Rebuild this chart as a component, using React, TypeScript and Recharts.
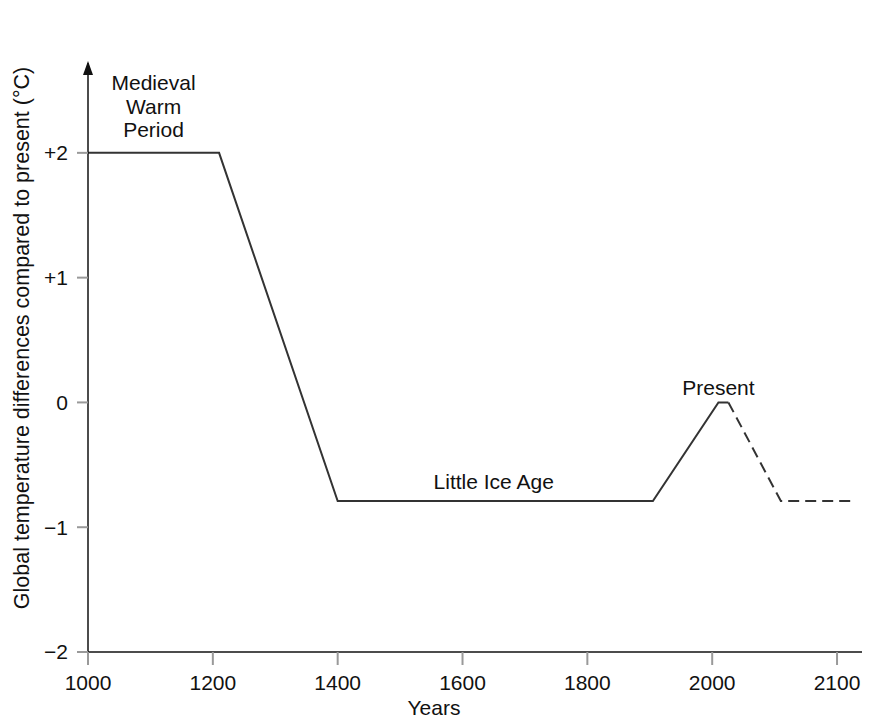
import { Label, Line, LineChart, ReferenceDot, XAxis, YAxis } from "recharts";

// tick years along the bottom (evenly spaced in the drawing even though 2000-2100 is only 100 years)
const tickYears = [1000, 1200, 1400, 1600, 1800, 2000, 2100];
const tempTicks = [-2, -1, 0, 1, 2];
const tempTickLabels = ["\u22122", "\u22121", "0", "+1", "+2"];

// reconstructed temperature curve
const pastYears = [1000, 1210, 1400, 1905, 2005, 2013];
const pastTemps = [2, 2, -0.79, -0.79, 0, 0];
const futureYears = [2013, 2055, 2115];
const futureTemps = [0, -0.79, -0.79];

// annotations (year = text centre, temp = first baseline)
const annotationTexts = [["Medieval", "Warm", "Period"], ["Little Ice Age"], ["Present"]];
const annotationYears = [1105, 1650, 2005];
const annotationTemps = [2.5, -0.69, 0.06];

const FONT = '"Liberation Sans", Arial, Helvetica, sans-serif';

// maps a year to its place on the evenly spaced tick grid
function yearToPos(year: number) {
  for (let i = 1; i < tickYears.length; i++) {
    if (year <= tickYears[i] || i === tickYears.length - 1) {
      const a = tickYears[i - 1];
      const b = tickYears[i];
      return i - 1 + (year - a) / (b - a);
    }
  }
  return 0;
}

const pastData = pastYears.map((y, i) => ({ pos: yearToPos(y), temp: pastTemps[i] }));
const futureData = futureYears.map((y, i) => ({ pos: yearToPos(y), temp: futureTemps[i] }));

export default function App() {
  return (
    <div style={{ position: "absolute", left: 0, top: 0, background: "#fff" }}>
      <LineChart width={869} height={721} margin={{ top: 63, right: 7, bottom: 5, left: 28 }}>
        <XAxis
          type="number"
          dataKey="pos"
          domain={[0, 6.2]}
          ticks={tickYears.map((_, i) => i)}
          tickFormatter={(v: number) => String(tickYears[v])}
          allowDataOverflow
          height={64}
          axisLine={{ stroke: "#111", strokeWidth: 1.5 }}
          tickLine={{ stroke: "#999", strokeWidth: 2 }}
          tickSize={13}
          tickMargin={10}
          tick={{ fill: "#111", fontSize: 21, fontFamily: FONT }}
        >
          <Label
            content={() => (
              <text x={434} y={715} textAnchor="middle" fill="#111" fontSize={21} fontFamily={FONT}>
                Years
              </text>
            )}
          />
        </XAxis>
        <YAxis
          type="number"
          domain={[-2, 2.72]}
          ticks={tempTicks}
          tickFormatter={(v: number) => tempTickLabels[tempTicks.indexOf(v)]}
          allowDataOverflow
          width={60}
          axisLine={{ stroke: "#111", strokeWidth: 1.5 }}
          tickLine={{ stroke: "#999", strokeWidth: 2 }}
          tickSize={11}
          tickMargin={9}
          tick={{ fill: "#111", fontSize: 21, fontFamily: FONT }}
        >
          <Label
            content={() => (
              <text
                x={22}
                y={338}
                transform="rotate(-90, 22, 338)"
                textAnchor="middle"
                dominantBaseline="central"
                fill="#111"
                fontSize={21.5}
                fontFamily={FONT}
              >
                Global temperature differences compared to present (°C)
              </text>
            )}
          />
        </YAxis>
        <Line
          data={pastData}
          dataKey="temp"
          type="linear"
          stroke="#333"
          strokeWidth={2}
          dot={false}
          activeDot={false}
          isAnimationActive={false}
        />
        <Line
          data={futureData}
          dataKey="temp"
          type="linear"
          stroke="#333"
          strokeWidth={2}
          strokeDasharray="11 6"
          dot={false}
          activeDot={false}
          isAnimationActive={false}
        />
        {/* arrow head on top of the y axis */}
        <ReferenceDot
          x={0}
          y={2.72}
          r={0}
          ifOverflow="visible"
          shape={(p: any) => (
            <polygon points={`${p.cx},${p.cy - 2} ${p.cx - 5},${p.cy + 12} ${p.cx + 5},${p.cy + 12}`} fill="#111" />
          )}
        />
        {annotationTexts.map((lines, i) => (
          <ReferenceDot
            key={i}
            x={yearToPos(annotationYears[i])}
            y={annotationTemps[i]}
            r={0}
            ifOverflow="visible"
            shape={(p: any) => (
              <text x={p.cx} y={p.cy} textAnchor="middle" fill="#111" fontSize={21} fontFamily={FONT}>
                {lines.map((t, j) => (
                  <tspan key={j} x={p.cx} dy={j === 0 ? 0 : 23.5}>
                    {t}
                  </tspan>
                ))}
              </text>
            )}
          />
        ))}
      </LineChart>
    </div>
  );
}
